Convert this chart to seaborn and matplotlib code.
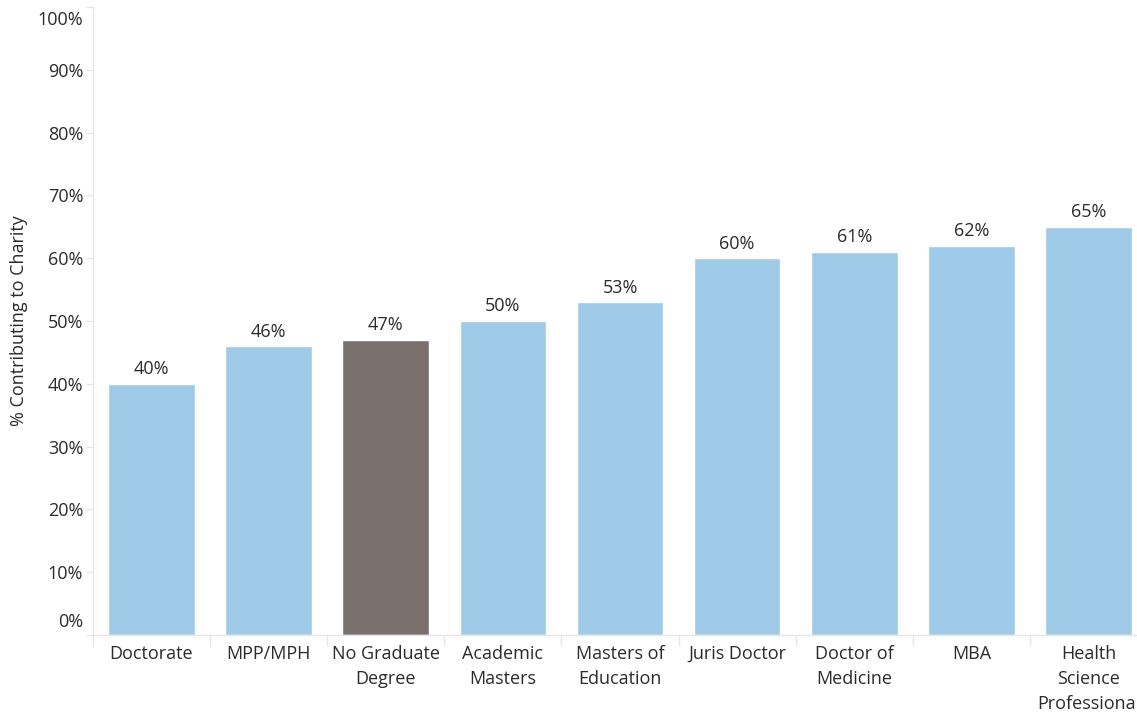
import matplotlib
matplotlib.use('Agg')
import matplotlib.pyplot as plt
import seaborn as sns
from matplotlib.ticker import FixedLocator

# Data
degrees = ['Doctorate', 'MPP/MPH', 'No Graduate\nDegree', 'Academic\nMasters',
           'Masters of\nEducation', 'Juris Doctor', 'Doctor of\nMedicine', 'MBA',
           'Health\nScience\nProfessional']
pct_contributing = [40, 46, 47, 50, 53, 60, 61, 62, 65]
highlight = 'No Graduate\nDegree'
yticks = list(range(0, 101, 10))

blue = '#A0CBE8'
grey = '#79706E'
text_col = '#2b2b2b'
axis_col = '#E6E6E6'
fs = 13

sns.set_style('white')
plt.rcParams['font.family'] = ['Open Sans', 'DejaVu Sans']

fig = plt.figure(figsize=(11.37, 7.14), dpi=100)
ax = fig.add_axes([93 / 1137, 79 / 714, 1054 / 1137, 628 / 714])

colors = [grey if d == highlight else blue for d in degrees]
sns.barplot(x=degrees, y=pct_contributing, hue=degrees, palette=colors,
            legend=False, width=0.74, saturation=1, ax=ax)

for c in ax.containers:
    ax.bar_label(c, fmt='%d%%', padding=4, fontsize=fs, color=text_col)

ax.set_xlim(-0.5, len(degrees) - 0.5)
ax.set_ylim(0, 100)
ax.set_yticks(yticks)
# the 0% and 100% labels sit pulled inside the plot area in the original
ax.set_yticklabels(['' if v in (0, 100) else f'{v}%' for v in yticks])
for v, dy in [(100, -13), (0, 13)]:
    ax.annotate(f'{v}%', xy=(0, v), xycoords=ax.get_yaxis_transform(),
                xytext=(-10, dy), textcoords='offset pixels',
                ha='right', va='center', fontsize=fs, color=text_col)

ax.set_ylabel('% Contributing to Charity', fontsize=fs, color=text_col, labelpad=14)
ax.set_xlabel('')

ax.tick_params(axis='y', length=5, width=1, color=axis_col, labelsize=fs,
               labelcolor=text_col, pad=2, left=True)
ax.tick_params(axis='x', which='major', length=0, labelsize=fs,
               labelcolor=text_col, pad=7)
ax.xaxis.set_minor_locator(FixedLocator([i - 0.5 for i in range(len(degrees) + 1)]))
ax.tick_params(axis='x', which='minor', length=8, width=1, color=axis_col, bottom=True)
for lbl in ax.get_xticklabels():
    lbl.set_linespacing(1.5)

for side in ['top', 'right']:
    ax.spines[side].set_visible(False)
for side in ['left', 'bottom']:
    ax.spines[side].set_color(axis_col)
    ax.spines[side].set_linewidth(1)

fig.savefig('out.png', dpi=100)
